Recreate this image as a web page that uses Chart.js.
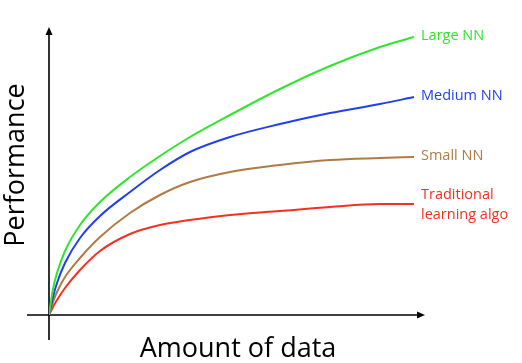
<!DOCTYPE html>
<html>
<head>
<meta charset="utf-8">
<title>Performance vs amount of data</title>
<script src="https://cdn.jsdelivr.net/npm/chart.js@4"></script>
<style>
  html, body { margin: 0; padding: 0; background: #fff; }
  #wrap { width: 522px; height: 363px; }
</style>
</head>
<body>
<div id="wrap"><canvas id="perfChart" width="522" height="363"></canvas></div>
<script>
// ── Data ──────────────────────────────────────────────────────
// x = amount of data, y = performance, both in arbitrary units
const dataAmount   = [0, 4, 8, 16, 31, 51, 81, 111, 141, 181, 231, 281, 331, 365];
const largeNN      = [0, 26, 42, 64, 90, 113, 138, 159, 178, 200, 226, 249, 268, 278];
const mediumNN     = [0, 18, 32, 52, 77, 99, 123, 145, 163, 178, 191, 202, 211, 218];
const smallNN      = [0, 13, 23, 38, 57, 78, 102, 120, 133, 143, 150, 155, 157, 158];
const traditional  = [0, 8, 15, 27, 45, 64, 81, 90, 95, 100, 104, 108, 111, 111];

const seriesNames  = [['Large NN'], ['Medium NN'], ['Small NN'], ['Traditional', 'learning algo']];
const seriesValues = [largeNN, mediumNN, smallNN, traditional];
const seriesColors = ['#2ee62e', '#1f3ff0', '#b07a45', '#f5301e'];

const X_MAX = 376;
const Y_MAX = 288;
const FONT = '"Open Sans", "DejaVu Sans", sans-serif';

// ── Axes with arrows, axis titles and end-of-line labels ─────
const sketchAxes = {
    id: 'sketchAxes',
    beforeDatasetsDraw(chart) {
        const { ctx, scales: { x, y } } = chart;
        const x0 = x.getPixelForValue(0), x1 = x.getPixelForValue(X_MAX);
        const y0 = y.getPixelForValue(0), y1 = y.getPixelForValue(Y_MAX);
        ctx.save();
        ctx.strokeStyle = '#000';
        ctx.fillStyle = '#000';
        ctx.lineWidth = 1.6;
        ctx.beginPath();
        ctx.moveTo(x0 - 22, y0); ctx.lineTo(x1 - 5, y0);   // x axis
        ctx.moveTo(x0, y0 + 25); ctx.lineTo(x0, y1 + 5);   // y axis
        ctx.stroke();
        // arrow heads
        ctx.beginPath();
        ctx.moveTo(x1, y0); ctx.lineTo(x1 - 8, y0 - 3.5); ctx.lineTo(x1 - 8, y0 + 3.5);
        ctx.closePath(); ctx.fill();
        ctx.beginPath();
        ctx.moveTo(x0, y1); ctx.lineTo(x0 - 3.5, y1 + 8); ctx.lineTo(x0 + 3.5, y1 + 8);
        ctx.closePath(); ctx.fill();

        // axis titles
        ctx.font = '27px ' + FONT;
        ctx.textAlign = 'center';
        ctx.textBaseline = 'alphabetic';
        ctx.fillText('Amount of data', 238, 357);
        ctx.translate(24, 165);
        ctx.rotate(-Math.PI / 2);
        ctx.fillText('Performance', 0, 0);
        ctx.restore();
    },
    afterDatasetsDraw(chart) {
        const { ctx, scales: { x, y } } = chart;
        ctx.save();
        ctx.font = '14.5px ' + FONT;
        ctx.textAlign = 'left';
        ctx.textBaseline = 'middle';
        seriesValues.forEach((vals, i) => {
            const last = vals.length - 1;
            const px = x.getPixelForValue(dataAmount[last]) + 7;
            const py = y.getPixelForValue(vals[last]) - 1;
            const lines = seriesNames[i];
            ctx.fillStyle = seriesColors[i];
            if (lines.length === 1) {
                ctx.fillText(lines[0], px, py);
            } else {
                ctx.fillText(lines[0], px, py - 8);
                ctx.fillText(lines[1], px, py + 12);
            }
        });
        ctx.restore();
    }
};

new Chart(document.getElementById('perfChart'), {
    type: 'line',
    data: {
        labels: dataAmount,
        datasets: seriesValues.map((vals, i) => ({
            label: seriesNames[i].join(' '),
            data: vals.map((v, j) => ({ x: dataAmount[j], y: v })),
            borderColor: seriesColors[i],
            borderWidth: 2,
            pointRadius: 0,
            fill: false,
            cubicInterpolationMode: 'monotone'
        }))
    },
    options: {
        responsive: false,
        animation: false,
        layout: { padding: { left: 49, right: 97, top: 27, bottom: 48 } },
        scales: {
            x: { type: 'linear', min: 0, max: X_MAX, display: false },
            y: { type: 'linear', min: 0, max: Y_MAX, display: false }
        },
        plugins: {
            legend:  { display: false },
            tooltip: { enabled: false }
        }
    },
    plugins: [sketchAxes]
});
</script>
</body>
</html>
